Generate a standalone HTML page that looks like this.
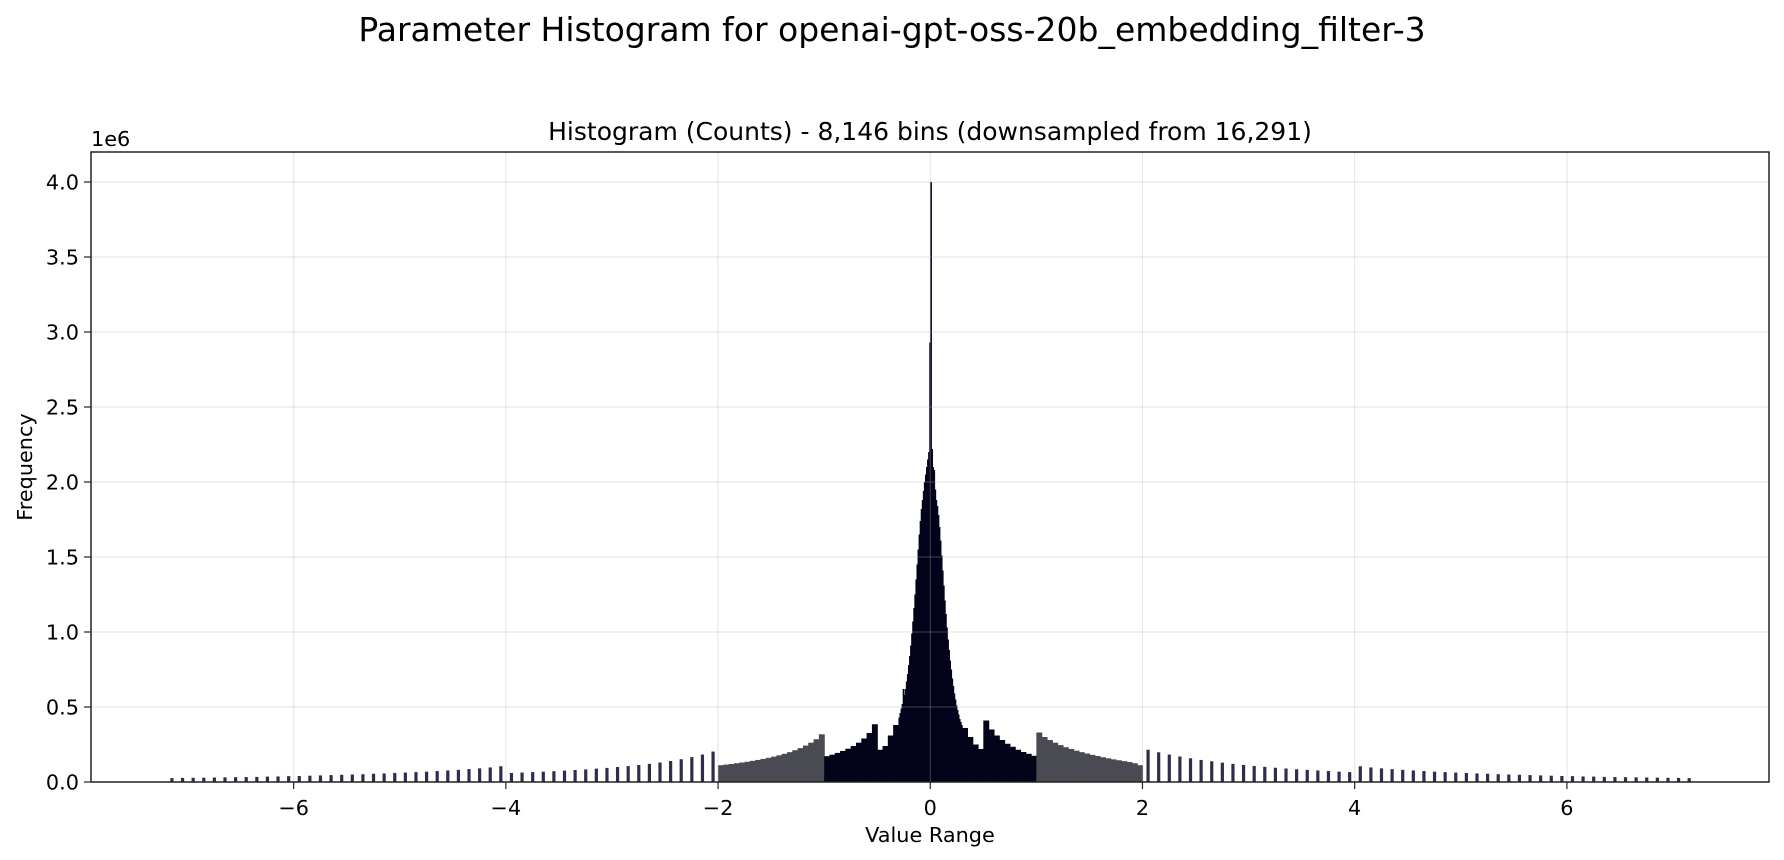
<!DOCTYPE html>
<html><head><meta charset="utf-8"><style>
html,body{margin:0;padding:0;background:#fff;}
svg{display:block;font-family:"DejaVu Sans","Liberation Sans",sans-serif;}
</style></head><body>
<svg id="chart" width="1784" height="860" viewBox="0 0 1784 860" xmlns="http://www.w3.org/2000/svg">
<rect x="0" y="0" width="1784" height="860" fill="#fff"/>
<text x="892" y="41" text-anchor="middle" font-size="33" fill="#000">Parameter Histogram for openai-gpt-oss-20b_embedding_filter-3</text>
<text x="930" y="140" text-anchor="middle" font-size="25" fill="#000">Histogram (Counts) - 8,146 bins (downsampled from 16,291)</text>
<text x="91" y="146" font-size="20.8" fill="#000">1e6</text>
<text x="930" y="842" text-anchor="middle" font-size="20.8" fill="#000">Value Range</text>
<text x="0" y="0" transform="translate(32,467) rotate(-90)" text-anchor="middle" font-size="20.8" fill="#000">Frequency</text>
<g id="bars"></g>
<g id="grid"></g>
<g id="axes"></g>
<rect x="91" y="152" width="1678" height="630" fill="none" stroke="#222" stroke-width="1.5"/>
</svg>
<script>
// Segments: [start, step, counts (x1e6)]
const segStarts = [-7.2, -4.0, -2.0, -1.0, -0.5, -0.3, 0.3, 0.5, 1.0, 2.0, 4.0];
const segSteps = [0.1, 0.1, 0.05, 0.05, 0.05, 0.01, 0.05, 0.05, 0.05, 0.1, 0.1];
const countsLeftOuter = [0.026,0.027,0.028,0.029,0.030,0.031,0.032,0.033,0.034,0.036,0.037,0.039,0.040,0.042,0.044,0.046,0.048,0.050,0.052,0.055,0.057,0.060,0.063,0.066,0.069,0.073,0.077,0.081,0.086,0.091,0.097,0.105];
const countsLeft4to2 = [0.060,0.063,0.066,0.069,0.072,0.076,0.080,0.084,0.089,0.094,0.100,0.106,0.113,0.121,0.130,0.140,0.152,0.166,0.183,0.203];
const countsLeft2to1 = [0.112,0.116,0.120,0.125,0.130,0.135,0.141,0.147,0.154,0.161,0.169,0.178,0.188,0.199,0.212,0.226,0.243,0.262,0.285,0.318];
const countsLeft1to05 = [0.172,0.182,0.194,0.207,0.222,0.240,0.262,0.290,0.327,0.385];
const countsLeftInner = [0.215,0.24,0.31,0.38];
const countsCenter = [0.43,0.46,0.49,0.52,0.62,0.58,0.62,0.67,0.72,0.78,0.84,0.91,0.99,1.07,1.16,1.25,1.35,1.45,1.55,1.65,1.74,1.82,1.88,1.94,2.0,2.05,2.1,2.15,2.2,2.93,
  4.0,2.22,2.1,2.08,1.95,1.88,1.84,1.78,1.70,1.61,1.51,1.41,1.31,1.21,1.12,1.03,0.95,0.88,0.81,0.75,0.69,0.64,0.59,0.55,0.51,0.48,0.45,0.42,0.40,0.38];
const countsRightInner = [0.36,0.30,0.25,0.22];
const countsRight05to1 = [0.41,0.35,0.31,0.28,0.255,0.235,0.215,0.20,0.188,0.175];
const countsRight1to2 = [0.33,0.30,0.28,0.262,0.246,0.232,0.22,0.209,0.199,0.19,0.181,0.173,0.165,0.158,0.151,0.145,0.139,0.133,0.125,0.112];
const countsRight2to4 = [0.215,0.198,0.183,0.170,0.158,0.147,0.138,0.129,0.121,0.114,0.107,0.101,0.095,0.090,0.085,0.081,0.077,0.073,0.069,0.066];
const countsRightOuter = [0.105,0.097,0.091,0.086,0.081,0.077,0.073,0.069,0.066,0.063,0.060,0.057,0.055,0.052,0.050,0.048,0.046,0.044,0.042,0.040,0.039,0.037,0.036,0.034,0.033,0.032,0.031,0.030,0.029,0.028,0.027,0.026];
const segCounts = [countsLeftOuter,countsLeft4to2,countsLeft2to1,countsLeft1to05,countsLeftInner,countsCenter,countsRightInner,countsRight05to1,countsRight1to2,countsRight2to4,countsRightOuter];
const xTicks = [-6,-4,-2,0,2,4,6];
const xTickLabels = ["\u22126","\u22124","\u22122","0","2","4","6"];
const yTicks = [0,0.5,1.0,1.5,2.0,2.5,3.0,3.5,4.0];
const yTickLabels = ["0.0","0.5","1.0","1.5","2.0","2.5","3.0","3.5","4.0"];

const NS = "http://www.w3.org/2000/svg";
const X0 = 91, X1 = 1769, Y0 = 782, Y1 = 152;
const xMin = -7.91, xMax = 7.905, yMin = 0, yMax = 4.2;
function xs(v){ return X0 + (v - xMin) / (xMax - xMin) * (X1 - X0); }
function ys(v){ return Y0 - (v - yMin) / (yMax - yMin) * (Y0 - Y1); }
function mk(tag, attrs, parent){ const e = document.createElementNS(NS, tag); for (const k in attrs) e.setAttribute(k, attrs[k]); parent.appendChild(e); return e; }

const bars = document.getElementById('bars');
segCounts.forEach((arr, s) => {
  const step = segSteps[s];
  arr.forEach((c, i) => {
    const lo = segStarts[s] + i * step, hi = lo + step;
    const mid = (lo + hi) / 2, am = Math.abs(mid);
    let xa = xs(lo), xb = xs(hi) + 0.6, fill = "#03031a";
    if (am > 2) { const c0 = (xa + xb) / 2; xa = c0 - 1.6; xb = c0 + 1.6; fill = "#2e2e4c"; }
    else if (am > 1) { fill = "#4a4a52"; }
    const y = ys(c);
    const r = mk('rect', {x: xa.toFixed(2), y: y.toFixed(2), width: Math.max(0.8, xb - xa).toFixed(2), height: (Y0 - y).toFixed(2), fill: fill}, bars);
    
    
  });
});

const grid = document.getElementById('grid');
const axes = document.getElementById('axes');
xTicks.forEach((t, i) => {
  const x = xs(t);
  const g = mk('line', {x1: x, x2: x, y1: Y1, y2: Y0, stroke: "#b0b0b0", "stroke-opacity": 0.3, "stroke-width": 1.2}, grid);
  
  
  const tk = mk('line', {x1: x, x2: x, y1: Y0, y2: Y0 + 7, stroke: "#222", "stroke-width": 1.2}, axes);
  
  
  const lb = mk('text', {x: x, y: Y0 + 33, "text-anchor": "middle", "font-size": 20.8, fill: "#000"}, axes);
  lb.textContent = xTickLabels[i];
  
  
});
yTicks.forEach((t, i) => {
  const y = ys(t);
  const g = mk('line', {x1: X0, x2: X1, y1: y, y2: y, stroke: "#b0b0b0", "stroke-opacity": 0.3, "stroke-width": 1.2}, grid);
  
  
  const tk = mk('line', {x1: X0 - 7, x2: X0, y1: y, y2: y, stroke: "#222", "stroke-width": 1.2}, axes);
  
  
  const lb = mk('text', {x: X0 - 12, y: y + 7.5, "text-anchor": "end", "font-size": 20.8, fill: "#000"}, axes);
  lb.textContent = yTickLabels[i];
  
  
});
</script>
</body></html>
